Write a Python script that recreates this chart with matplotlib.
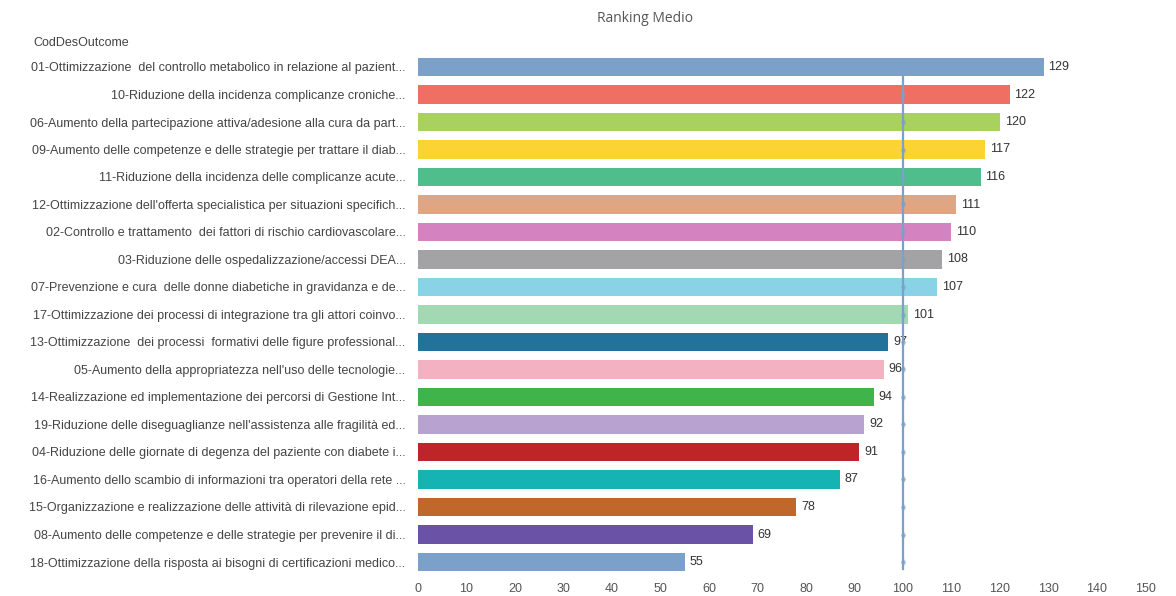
import matplotlib
matplotlib.use('Agg')
import matplotlib.pyplot as plt

# ............................................................ data
outcomes = [
    "01-Ottimizzazione  del controllo metabolico in relazione al pazient...",
    "10-Riduzione della incidenza complicanze croniche...",
    "06-Aumento della partecipazione attiva/adesione alla cura da part...",
    "09-Aumento delle competenze e delle strategie per trattare il diab...",
    "11-Riduzione della incidenza delle complicanze acute...",
    "12-Ottimizzazione dell'offerta specialistica per situazioni specifich...",
    "02-Controllo e trattamento  dei fattori di rischio cardiovascolare...",
    "03-Riduzione delle ospedalizzazione/accessi DEA...",
    "07-Prevenzione e cura  delle donne diabetiche in gravidanza e de...",
    "17-Ottimizzazione dei processi di integrazione tra gli attori coinvo...",
    "13-Ottimizzazione  dei processi  formativi delle figure professional...",
    "05-Aumento della appropriatezza nell'uso delle tecnologie...",
    "14-Realizzazione ed implementazione dei percorsi di Gestione Int...",
    "19-Riduzione delle diseguaglianze nell'assistenza alle fragilità ed...",
    "04-Riduzione delle giornate di degenza del paziente con diabete i...",
    "16-Aumento dello scambio di informazioni tra operatori della rete ...",
    "15-Organizzazione e realizzazione delle attività di rilevazione epid...",
    "08-Aumento delle competenze e delle strategie per prevenire il di...",
    "18-Ottimizzazione della risposta ai bisogni di certificazioni medico...",
]
ranking = [129, 122, 120, 117, 116, 111, 110, 108, 107, 101,
           97, 96, 94, 92, 91, 87, 78, 69, 55]
colors = ['#7ba1cb', '#ef6f63', '#a8d15f', '#fbd434', '#50bd8c', '#e0a583',
          '#d582c0', '#a3a3a5', '#8ad3e6', '#a2d9b2', '#21739b', '#f3b1c2',
          '#3eb44b', '#b8a2d0', '#bf2428', '#15b3b2', '#c0682b', '#6a52a6',
          '#7ba1cb']
ref_value = 100
xticks = list(range(0, 151, 10))

# ........................................................... figure
W, H = 1176, 596
fig = plt.figure(figsize=(W / 100, H / 100), dpi=100)
plt.rcParams['font.family'] = ['Liberation Sans', 'DejaVu Sans']
ax = fig.add_axes([418 / W, 1 - 578.5 / H, 742 / W, (578.5 - 50.5) / H])

pos = list(range(len(ranking)))
ax.barh(pos, ranking, height=0.66, color=colors)
for p, v in zip(pos, ranking):
    ax.text(v + 1.0, p, str(v), va='center', ha='left', fontsize=9, color='#333333')

# reference line at 100
ax.plot([ref_value, ref_value], [0, len(ranking) - 0.75], color='#7ba1cb', lw=1.6, zorder=3)
ax.plot([ref_value] * len(pos), pos, ls='none', marker='d', ms=3,
        color='#7ba1cb', alpha=0.6, zorder=3)

ax.set_xlim(0, 153)
ax.set_ylim(len(ranking) - 0.4, -0.6)
ax.set_xticks(xticks)
ax.set_yticks(pos)
ax.set_yticklabels(outcomes)
ax.tick_params(axis='y', length=0, pad=9, labelsize=9, labelcolor='#444444')
ax.tick_params(axis='x', length=0, pad=3, labelsize=9, labelcolor='#555555')
for s in ax.spines.values():
    s.set_visible(False)

fig.text(645 / W, 1 - 18 / H, 'Ranking Medio', ha='center', va='center',
         fontsize=10, color='#555555', family=['Open Sans', 'DejaVu Sans'])
fig.text(33 / W, 1 - 43 / H, 'CodDesOutcome', ha='left', va='center',
         fontsize=9, color='#444444')

fig.savefig('out.png', dpi=100)
